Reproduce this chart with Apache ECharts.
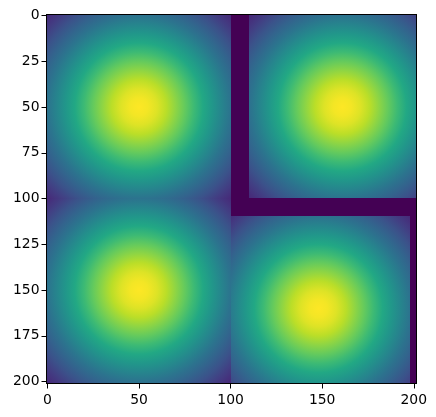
<!DOCTYPE html>
<html><head><meta charset="utf-8">
<style>html,body{margin:0;padding:0;background:#fff}#c{width:436px;height:417px}</style>
<script src="https://cdn.jsdelivr.net/npm/echarts@6/dist/echarts.min.js"></script>
</head><body><div id="c"></div>
<script>
// Tick labels
const xTicks = [0, 50, 100, 150, 200];
const yTicks = [0, 25, 50, 75, 100, 125, 150, 175, 200];
// Radial profile of each blob: distance from centre -> value (0..1)
const radii  = [0, 5, 10, 15, 20, 25, 30, 35, 40, 45, 50, 55, 60, 65, 70, 75];
const levels = [1.0, 0.985, 0.95, 0.895, 0.83, 0.76, 0.68, 0.60, 0.525, 0.45, 0.38, 0.315, 0.25, 0.18, 0.125, 0.09];
// Blobs: image-coordinate extents and centres
const blobX0 = [-0.5, 110, -0.5, 100.3];
const blobX1 = [100.3, 201.5, 100.3, 198];
const blobY0 = [-0.5, -0.5, 99.7, 109.7];
const blobY1 = [99.7, 99.7, 201, 201];
const blobCX = [50, 161, 50, 148];
const blobCY = [50, 50, 150, 160];
// Zero-valued bars
const barX0 = [100.3, 100.3, 198];
const barX1 = [110, 201.5, 201.5];
const barY0 = [-0.5, 99.7, 109.7];
const barY1 = [109.7, 109.7, 201];
const barValue = [0, 0, 0];
// Viridis anchors
const viridis = ['#440154','#482475','#414487','#355f8d','#2a788e','#21918c','#22a884','#44bf70','#7ad151','#bddf26','#fde725'];

function hex(c){return [1,3,5].map(i=>parseInt(c.substr(i,2),16));}
function cmap(v){
  const t=Math.max(0,Math.min(1,v))*(viridis.length-1), i=Math.min(viridis.length-2,Math.floor(t)), f=t-i;
  const a=hex(viridis[i]), b=hex(viridis[i+1]);
  return 'rgb('+a.map((x,k)=>Math.round(x+(b[k]-x)*f)).join(',')+')';
}
const blobData = blobX0.map((_,i)=>[blobX0[i],blobX1[i],blobY0[i],blobY1[i],blobCX[i],blobCY[i]]);
const barData = barX0.map((_,i)=>[barX0[i],barX1[i],barY0[i],barY1[i],barValue[i]]);
const rMax = radii[radii.length-1];

function rectOf(api){
  const p0=api.coord([api.value(0),api.value(2)]), p1=api.coord([api.value(1),api.value(3)]);
  const x0=Math.round(p0[0]),y0=Math.round(p0[1]),x1=Math.round(p1[0]),y1=Math.round(p1[1]);
  return {x:x0,y:y0,width:x1-x0,height:y1-y0};
}
function axisBase(extra){
  return Object.assign({type:'value',min:-0.5,max:201.5,z:5,splitLine:{show:false},
    axisLine:{show:true,onZero:false,lineStyle:{color:'#000',width:1}},
    axisTick:{show:false},axisLabel:{show:false}},extra);
}
function ticks(vals,margin){return {
  axisTick:{show:true,length:5,customValues:vals,lineStyle:{color:'#000',width:1}},
  axisLabel:{show:true,customValues:vals,color:'#000',fontFamily:'DejaVu Sans',fontSize:13.9,margin:margin,hideOverlap:false}
};}
const chart=echarts.init(document.getElementById('c'),null,{renderer:'canvas'});
chart.setOption({
  animation:false,
  backgroundColor:'#fff',
  grid:{left:46.5,top:14.5,width:370,height:369,containLabel:false},
  xAxis:[axisBase(Object.assign({position:'bottom'},ticks(xTicks,10))),axisBase({position:'top'})],
  yAxis:[axisBase(Object.assign({position:'left',inverse:true,max:201},ticks(yTicks,7))),axisBase({position:'right',inverse:true,max:201})],
  series:[
    {type:'custom',z:1,clip:true,silent:true,data:blobData,encode:{x:[0,1],y:[2,3]},
     renderItem(params,api){
       const c=api.coord([api.value(4),api.value(5)]);
       const e=api.coord([api.value(4)+rMax,api.value(5)]);
       return {type:'rect',shape:rectOf(api),style:{fill:{type:'radial',global:true,x:c[0],y:c[1],r:Math.abs(e[0]-c[0]),
         colorStops:radii.map((r,i)=>({offset:r/rMax,color:cmap(levels[i])}))}}};
     }},
    {type:'custom',z:2,clip:true,silent:true,data:barData,encode:{x:[0,1],y:[2,3]},
     renderItem(params,api){
       return {type:'rect',shape:rectOf(api),style:{fill:cmap(api.value(4))}};
     }}
  ]
});
</script></body></html>
